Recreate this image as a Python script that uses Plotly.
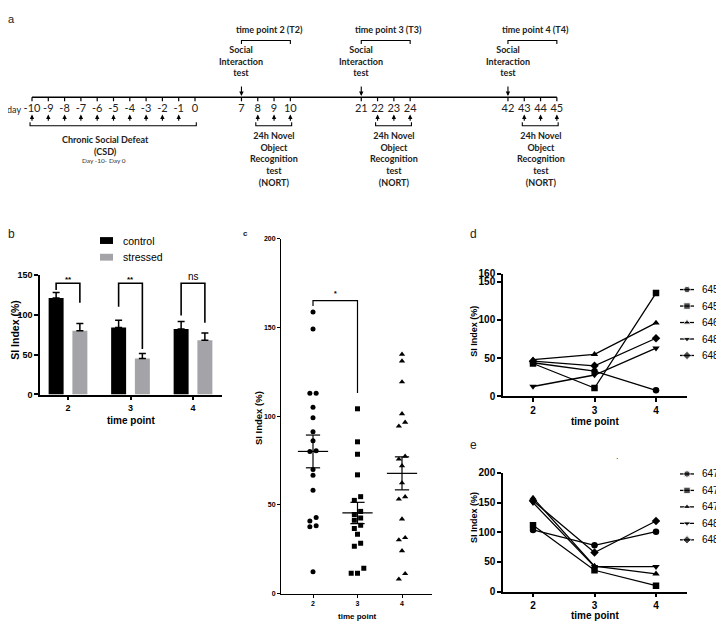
import numpy as np
import plotly.graph_objects as go

W, H = 724, 629            # window size
OFF = 8                    # default margin of the html body
FW, FH = W - OFF, H - OFF  # figure size so that it fills the window

# ---------------- data ----------------
# (a) experimental timeline
csd_days = [-10, -9, -8, -7, -6, -5, -4, -3, -2, -1, 0]
si_test_days = [7, 21, 42]
nort_days_t2 = [8, 9, 10]
nort_days_t3 = [22, 23, 24]
nort_days_t4 = [43, 44, 45]
timepoint_names = ["time point 2 (T2)", "time point 3 (T3)", "time point 4 (T4)"]
csd_text = "Chronic Social Defeat<br>(CSD)"
csd_subtext = "Day -10- Day 0"
si_text = "Social<br>Interaction<br>test"
nort_text = "24h Novel<br>Object<br>Recognition<br>test<br>(NORT)"

# (b) group means +/- SEM
time_points = [2, 3, 4]
control_mean = [121, 84, 82]
control_sem = [7, 9, 9.5]
stressed_mean = [80, 45, 68]
stressed_sem = [9, 6.5, 9]
sig_b = ["**", "**", "ns"]
group_names = ["control", "stressed"]

# (c) individual SI index values per time point
si_tp2 = [158.7, 149.1, 112.8, 112.8, 104.9, 99.0, 91.1, 86.1, 80.4, 80.0,
          69.9, 66.7, 58.2, 42.8, 40.9, 38.2, 37.6, 12.3]
si_tp3 = [104.1, 85.5, 78.5, 66.9, 54.6, 52.5, 46.3, 44.6, 42.6, 41.3,
          38.5, 36.7, 33.4, 28.4, 26.7, 14.2, 11.4, 11.4]
si_tp4 = [134.8, 131.0, 119.2, 101.3, 96.5, 94.3, 77.3, 75.7, 72.0, 62.3,
          54.5, 53.2, 42.0, 31.5, 30.2, 24.1, 11.2, 8.1]
sig_c = "*"

# (d) individual mice
mice_d = ["6455", "6459", "6461", "6485", "6488"]
si_6455 = [44, 33, 8]
si_6459 = [43, 11, 135]
si_6461 = [48, 55, 96]
si_6485 = [13, 28, 63]
si_6488 = [46, 40, 76]

# (e) individual mice
mice_e = ["6473", "6475", "6476", "6482", "6483"]
si_6473 = [104, 78, 101]
si_6475 = [112, 36, 10]
si_6476 = [158, 43, 30]
si_6482 = [150, 42, 42]
si_6483 = [153, 66, 119]

# ---------------- styling ----------------
ARIAL = "Liberation Sans, Arial, sans-serif"
CAL = "Lato, Carlito, Calibri, sans-serif"
BLACK = "#000000"
GRAY = "#a4a4a8"
SYMBOLS = ["circle", "square", "triangle-up", "triangle-down", "diamond"]


def fx(px):
    return (px - OFF) / FW


def fy(py):
    return 1 - (py - OFF) / FH


fig = go.Figure()
ann = []
shapes = []

# ================= panel a : timeline =================
nort_groups = [nort_days_t2, nort_days_t3, nort_days_t4]
day_seq = sorted(set(csd_days + si_test_days + sum(nort_groups, [])))
GAP = {7: 2.85, 21: 4.35, 42: 6.0}   # compressed gaps on the drawn time line
pos = {}
p, prev = 0.0, None
for d in day_seq:
    if prev is not None:
        p += GAP.get(d, d - prev)
    pos[d] = p
    prev = d
A_PX_PER_DAY = 16.3
A_X0 = 32
A_BOTTOM = 190

LINE_Y, TICK_Y, LABEL_Y = 93, 97, 105
UP_TAIL, UP_TIP = 118.5, 110.5
BRK_Y, BRK_END = 122, 118.5
DOWN_TAIL, DOWN_TIP = 80.5, 91.5
TOP_BRK_Y, TOP_BRK_END = 35, 38.5

xa = dict(xaxis="x", yaxis="y", showlegend=False, hoverinfo="skip")
fig.add_trace(go.Scatter(x=[pos[day_seq[0]], pos[day_seq[-1]]], y=[LINE_Y, LINE_Y],
                         mode="lines", line=dict(color=BLACK, width=1.5), **xa))
tx, ty = [], []
for d in day_seq:
    tx += [pos[d], pos[d], None]
    ty += [LINE_Y, TICK_Y, None]
fig.add_trace(go.Scatter(x=tx, y=ty, mode="lines", line=dict(color=BLACK, width=1.2), **xa))
fig.add_trace(go.Scatter(x=[pos[d] for d in day_seq], y=[LABEL_Y] * len(day_seq),
                         text=[str(d) for d in day_seq], mode="text",
                         textfont=dict(family=CAL, size=11, color="#222"), **xa))
ann.append(dict(x=pos[-10] - 0.55, y=LABEL_Y, xref="x", yref="y", text="day", showarrow=False,
                xanchor="right", yanchor="middle", font=dict(family=CAL, size=9, color="#222")))

up_days = [d for d in csd_days if d != 0] + sum(nort_groups, [])
arrow_style = dict(xref="x", yref="y", axref="x", ayref="y", text="", showarrow=True,
                   arrowhead=2, arrowsize=0.8, arrowwidth=1.1, arrowcolor=BLACK,
                   standoff=0, startstandoff=0)
for d in up_days:
    ann.append(dict(x=pos[d], y=UP_TIP, ax=pos[d], ay=UP_TAIL, **arrow_style))
for d in si_test_days:
    ann.append(dict(x=pos[d], y=DOWN_TIP, ax=pos[d], ay=DOWN_TAIL, **arrow_style))

bx, by = [], []
for g in [csd_days] + nort_groups:
    l, r = pos[g[0]] - 0.12, pos[g[-1]] + 0.08
    bx += [l, l, r, r, None]
    by += [BRK_END, BRK_Y, BRK_Y, BRK_END, None]
for sd, g in zip(si_test_days, nort_groups):
    l, r = pos[sd], pos[g[-1]]
    bx += [l, l, r, r, None]
    by += [TOP_BRK_END, TOP_BRK_Y, TOP_BRK_Y, TOP_BRK_END, None]
fig.add_trace(go.Scatter(x=bx, y=by, mode="lines", line=dict(color=BLACK, width=1.1), **xa))

bold_cal = dict(family=CAL, size=9, color="#222", weight="bold")
for name, sd, g in zip(timepoint_names, si_test_days, nort_groups):
    ann.append(dict(x=(pos[sd] + pos[g[-1]]) / 2 + 0.2, y=24, xref="x", yref="y", text=name,
                    showarrow=False, font=bold_cal))
    ann.append(dict(x=pos[sd], y=56, xref="x", yref="y", text=si_text, showarrow=False,
                    font=bold_cal))
    ann.append(dict(x=pos[g[1]], y=155.5, xref="x", yref="y", text=nort_text, showarrow=False,
                    font=bold_cal))
ann.append(dict(x=pos[-5] - 0.5, y=142.5, xref="x", yref="y", text=csd_text, showarrow=False,
                font=bold_cal))
ann.append(dict(x=pos[-5] - 0.6, y=157, xref="x", yref="y", text=csd_subtext, showarrow=False,
                font=dict(family=CAL, size=6.5, color="#333")))

# ================= panel b : bar chart =================
BARGAP = 0.24
BAR_OFF = (1 - BARGAP) / 4
fig.add_trace(go.Bar(x=time_points, y=control_mean, name=group_names[0],
                     marker=dict(color=BLACK, line=dict(width=0)),
                     error_y=dict(type="data", symmetric=False, array=control_sem,
                                  arrayminus=[0] * 3, color=BLACK, thickness=1.5, width=3.5),
                     xaxis="x2", yaxis="y2", showlegend=False))
fig.add_trace(go.Bar(x=time_points, y=stressed_mean, name=group_names[1],
                     marker=dict(color=GRAY, line=dict(width=0)),
                     error_y=dict(type="data", symmetric=False, array=stressed_sem,
                                  arrayminus=[0] * 3, color=BLACK, thickness=1.5, width=3.5),
                     xaxis="x2", yaxis="y2", showlegend=False))
B_TOP = 139.5
B_LEFT_END = [131, 110, 99]
B_RIGHT_END = [115, 57, 90]
sx, sy = [], []
for i, t in enumerate(time_points):
    l, r = t - BAR_OFF, t + BAR_OFF
    sx += [l, l, r, r, None]
    sy += [B_LEFT_END[i], B_TOP, B_TOP, B_RIGHT_END[i], None]
    is_ns = sig_b[i] == "ns"
    ann.append(dict(x=t, y=B_TOP + (8 if is_ns else 5), xref="x2", yref="y2", text=sig_b[i],
                    showarrow=False, yanchor="middle",
                    font=dict(family=ARIAL, size=10 if is_ns else 8, color=BLACK,
                              weight="normal" if is_ns else "bold")))
fig.add_trace(go.Scatter(x=sx, y=sy, mode="lines", line=dict(color=BLACK, width=1.6),
                         xaxis="x2", yaxis="y2", showlegend=False, hoverinfo="skip"))

# ================= panel c : scatter with mean +/- SEM =================
C_X0, C_X1, C_Y0, C_Y1 = 281, 432, 599, 237
C_RANGE_X = [1.281, 4.674]
C_RANGE_Y = [0, 200]
c_px_per_unit = (C_Y0 - C_Y1) / (C_RANGE_Y[1] - C_RANGE_Y[0])
c_px_per_cat = (C_X1 - C_X0) / (C_RANGE_X[1] - C_RANGE_X[0])


def swarm(vals, thresh_px=5.7, step_px=6.3):
    vals = np.asarray(vals, dtype=float)
    order = np.argsort(vals)
    offs = np.zeros(len(vals))
    clusters, cur = [], [order[0]]
    for idx in order[1:]:
        if (vals[idx] - vals[cur[0]]) * c_px_per_unit < thresh_px:
            cur.append(idx)
        else:
            clusters.append(cur)
            cur = [idx]
    clusters.append(cur)
    for cl in clusters:
        n = len(cl)
        for k, idx in enumerate(cl):
            offs[idx] = (k - (n - 1) / 2) * step_px / c_px_per_cat
    return offs


c_sets = [si_tp2, si_tp3, si_tp4]
c_sizes = [5, 5, 5.5]
for t, vals, sym, sz in zip(time_points, c_sets, SYMBOLS, c_sizes):
    offs = swarm(vals)
    fig.add_trace(go.Scatter(x=t + offs, y=vals, mode="markers",
                             marker=dict(symbol=sym, size=sz, color=BLACK, line=dict(width=0)),
                             xaxis="x3", yaxis="y3", showlegend=False))
mx, my = [], []
for t, vals in zip(time_points, c_sets):
    v = np.asarray(vals)
    m = v.mean()
    s = v.std(ddof=1) / np.sqrt(len(v))
    mx += [t - 0.34, t + 0.34, None, t - 0.16, t + 0.16, None, t - 0.16, t + 0.16, None, t, t, None]
    my += [m, m, None, m + s, m + s, None, m - s, m - s, None, m - s, m + s, None]
fig.add_trace(go.Scatter(x=mx, y=my, mode="lines", line=dict(color=BLACK, width=1.2),
                         xaxis="x3", yaxis="y3", showlegend=False, hoverinfo="skip"))
C_BRK = 165
fig.add_trace(go.Scatter(x=[2, 2, 3, 3], y=[162, C_BRK, C_BRK, 113], mode="lines",
                         line=dict(color=BLACK, width=1.2), xaxis="x3", yaxis="y3",
                         showlegend=False, hoverinfo="skip"))
ann.append(dict(x=2.5, y=C_BRK + 4, xref="x3", yref="y3", text=sig_c, showarrow=False,
                font=dict(family=ARIAL, size=7, color=BLACK, weight="bold")))

# ================= panels d, e : individual mice =================
d_series = [si_6455, si_6459, si_6461, si_6485, si_6488]
e_series = [si_6473, si_6475, si_6476, si_6482, si_6483]
for series, axx, axy in [(d_series, "x4", "y4"), (e_series, "x5", "y5")]:
    for vals, sym in zip(series, SYMBOLS):
        fig.add_trace(go.Scatter(x=time_points, y=vals, mode="lines+markers",
                                 line=dict(color=BLACK, width=1.3),
                                 marker=dict(symbol=sym, size=6.5, color=BLACK),
                                 xaxis=axx, yaxis=axy, showlegend=False))

# custom legends (overlay axis in window-pixel units)
LEG_X0, LEG_X1, LEG_TEXT_X = 680, 694, 700
LEG_ROW = 16.8
for names, top in [(mice_d, 289), (mice_e, 477)]:
    for i, (nm, sym) in enumerate(zip(names, SYMBOLS)):
        yy = top + i * LEG_ROW
        fig.add_trace(go.Scatter(x=[LEG_X0, (LEG_X0 + LEG_X1) / 2, LEG_X1], y=[yy] * 3,
                                 mode="lines+markers", line=dict(color=BLACK, width=1.3),
                                 marker=dict(symbol=sym, size=[0, 6.5, 0], color=BLACK),
                                 xaxis="x6", yaxis="y6", showlegend=False, hoverinfo="skip"))
        ann.append(dict(x=LEG_TEXT_X, y=yy, xref="x6", yref="y6", text=nm, showarrow=False,
                        xanchor="left", yanchor="middle",
                        font=dict(family=ARIAL, size=10, color=BLACK)))

# panel b legend
for i, (nm, col) in enumerate(zip(group_names, [BLACK, GRAY])):
    yy = 239 + i * 17
    shapes.append(dict(type="rect", xref="x6", yref="y6", x0=100, x1=113, y0=yy - 3.5,
                       y1=yy + 3.5, fillcolor=col, line=dict(width=0)))
    ann.append(dict(x=121, y=yy, xref="x6", yref="y6", text=nm, showarrow=False,
                    xanchor="left", yanchor="middle",
                    font=dict(family=ARIAL, size=10.5, color=BLACK)))

# stray dot in panel e
ann.append(dict(x=617, y=459, xref="x6", yref="y6", text=".", showarrow=False,
                font=dict(family=ARIAL, size=9, color="#444")))

# panel letters
for letter, px, py, sz, wt in [("a", 11.5, 13, 11, "normal"), ("b", 11.5, 232, 12, "normal"),
                                ("c", 245, 232, 8, "bold"), ("d", 473, 232, 12, "normal"),
                                ("e", 473, 447, 12, "normal")]:
    ann.append(dict(x=px, y=py, xref="x6", yref="y6", text=letter, xanchor="center",
                    yanchor="middle", showarrow=False,
                    font=dict(family=ARIAL, size=sz, color="#222", weight=wt)))

# axis titles
for txt, px, py, sz, rot in [
    ("SI Index (%)", 15, 330, 10.5, -90), ("time point", 131, 422, 10, 0),
    ("SI Index (%)", 258, 420, 9.5, -90), ("time point", 357, 622, 8, 0),
    ("SI Index (%)", 474, 332, 9, -90), ("time point", 595, 424, 10, 0),
    ("SI Index (%)", 474, 522, 9, -90), ("time point", 595, 621, 10, 0),
]:
    ann.append(dict(x=px, y=py, xref="x6", yref="y6", text=txt, showarrow=False,
                    xanchor="center", yanchor="middle", textangle=rot,
                    font=dict(family=ARIAL, size=sz, color=BLACK, weight="bold")))


def axis(domain, rng, tickvals, fsize, lw=1.5, tlen=4):
    return dict(domain=domain, range=rng, tickvals=tickvals, showline=True, linecolor=BLACK,
                linewidth=lw, ticks="outside", ticklen=tlen, tickwidth=lw, tickcolor=BLACK,
                showgrid=False, zeroline=False, fixedrange=True,
                tickfont=dict(family=ARIAL, size=fsize, color=BLACK, weight="bold"))


hidden = dict(visible=False, fixedrange=True, showgrid=False, zeroline=False)

fig.update_layout(
    width=FW, height=FH, autosize=False,
    margin=dict(l=0, r=0, t=0, b=0, pad=0),
    paper_bgcolor="white", plot_bgcolor="rgba(0,0,0,0)",
    barmode="group", bargap=BARGAP, bargroupgap=0.37,
    xaxis=dict(domain=[0, 1], range=[(OFF - A_X0) / A_PX_PER_DAY, (W - A_X0) / A_PX_PER_DAY],
               anchor="y", **hidden),
    yaxis=dict(domain=[fy(A_BOTTOM), 1], range=[A_BOTTOM, OFF], anchor="x", **hidden),
    xaxis2=dict(anchor="y2", **axis([fx(40), fx(222)], [1.552, 4.464], time_points, 9)),
    yaxis2=dict(anchor="x2", **axis([fy(396), fy(274)], [0, 150], [0, 50, 100, 150], 9)),
    xaxis3=dict(anchor="y3", **axis([fx(C_X0), fx(C_X1)], C_RANGE_X, time_points, 7, 1, 3)),
    yaxis3=dict(anchor="x3", **axis([fy(C_Y0), fy(C_Y1)], C_RANGE_Y, [0, 50, 100, 150, 200],
                                    7, 1, 3)),
    xaxis4=dict(anchor="y4", **axis([fx(503), fx(687)], [1.512, 4.504], time_points, 10)),
    yaxis4=dict(anchor="x4", **axis([fy(398), fy(273)], [0, 160], [0, 50, 100, 150, 160], 10)),
    xaxis5=dict(anchor="y5", **axis([fx(503), fx(687)], [1.512, 4.504], time_points, 10)),
    yaxis5=dict(anchor="x5", **axis([fy(597), fy(476)], [0, 200], [0, 50, 100, 150, 200], 10)),
    xaxis6=dict(domain=[0, 1], range=[OFF, W], anchor="y6", **hidden),
    yaxis6=dict(domain=[0, 1], range=[H, OFF], anchor="x6", **hidden),
    annotations=ann, shapes=shapes,
)

fig.write_html("out.html")
